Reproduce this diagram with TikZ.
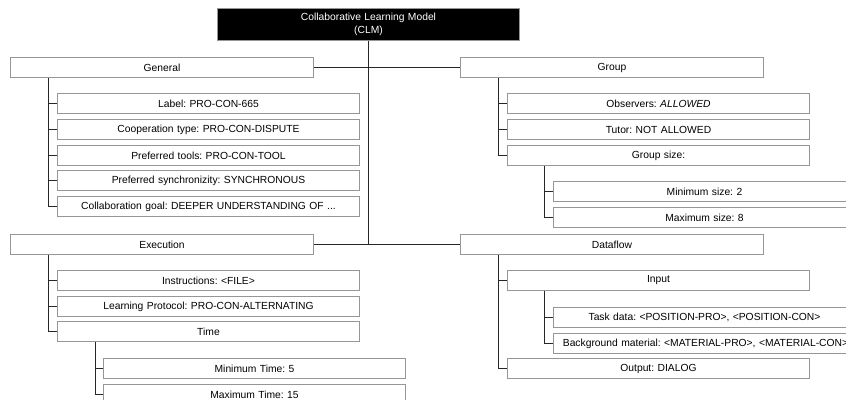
\documentclass[tikz,border=0pt]{standalone}
\usepackage{fontspec}
\setmainfont{Liberation Sans}
\definecolor{boxgrey}{RGB}{150,150,150}
\begin{document}
\begin{tikzpicture}[x=1pt,y=-1pt,
  lbl/.style={font=\fontsize{10.3}{12.5}\selectfont\frenchspacing},
  box/.style={lbl, draw=boxgrey, line width=1pt, fill=white, text width=302pt,
    inner xsep=0pt, inner ysep=0pt, align=center, minimum height=20pt, anchor=north west},
  topbox/.style={box, text width=303pt},
  rootbox/.style={lbl, draw=boxgrey, line width=1pt, fill=black, text=white, text width=302pt,
    inner xsep=0pt, inner ysep=0pt, align=center, minimum height=32pt, anchor=north west},
  conn/.style={draw=black!85, line width=0.9pt}]
\useasboundingbox (0,0) rectangle (846,399);
\fill[white] (0,0) rectangle (846,399);

% root
\node[rootbox] (root) at (217,8) {Collaborative Learning Model\\[0pt](CLM)};

% first level
\node[topbox] (gen) at (10,57) {General};
\node[topbox] (grp) at (460,57) {Group};
\node[topbox] (exe) at (10,234) {Execution};
\node[topbox] (df)  at (460,234) {Dataflow};

\draw[conn] (root.south) -- (root.south |- exe.east);
\draw[conn] (gen.east) -- (grp.west);
\draw[conn] (exe.east) -- (df.west);

% General
\node[box] (g1) at (57,93)  {Label: PRO-CON-665};
\node[box] (g2) at (57,119) {Cooperation type: PRO-CON-DISPUTE};
\node[box] (g3) at (57,145) {Preferred tools: PRO-CON-TOOL};
\node[box] (g4) at (57,170) {Preferred synchronizity: SYNCHRONOUS};
\node[box] (g5) at (57,196) {Collaboration goal: DEEPER UNDERSTANDING OF ...};
\foreach \c in {g1,g2,g3,g4,g5}
  \draw[conn] ([xshift=38pt]gen.south west) |- (\c.west);

% Execution
\node[box] (e1) at (57,270) {Instructions: <FILE>};
\node[box] (e2) at (57,296) {Learning Protocol: PRO-CON-ALTERNATING};
\node[box] (e3) at (57,321) {Time};
\foreach \c in {e1,e2,e3}
  \draw[conn] ([xshift=38pt]exe.south west) |- (\c.west);
\node[box] (t1) at (103,358) {Minimum Time: 5};
\node[box] (t2) at (103,384) {Maximum Time: 15};
\foreach \c in {t1,t2}
  \draw[conn] ([xshift=38pt]e3.south west) |- (\c.west);

% Group
\node[box] (p1) at (507,93)  {Observers: \textit{ALLOWED}};
\node[box] (p2) at (507,119) {Tutor: NOT ALLOWED};
\node[box] (p3) at (507,145) {Group size:};
\foreach \c in {p1,p2,p3}
  \draw[conn] ([xshift=38pt]grp.south west) |- (\c.west);
\node[box] (s1) at (553,181) {Minimum size: 2};
\node[box] (s2) at (553,207) {Maximum size: 8};
\foreach \c in {s1,s2}
  \draw[conn] ([xshift=37pt]p3.south west) |- (\c.west);

% Dataflow
\node[box] (d1) at (507,270) {Input};
\node[box] (d2) at (507,358) {Output: DIALOG};
\foreach \c in {d1,d2}
  \draw[conn] ([xshift=38pt]df.south west) |- (\c.west);
\node[box] (i1) at (553,307) {Task data: <POSITION-PRO>, <POSITION-CON>};
\node[box] (i2) at (553,333) {\hspace*{2pt}Background material: <MATERIAL-PRO>, <MATERIAL-CON>\hfill};
\foreach \c in {i1,i2}
  \draw[conn] ([xshift=37pt]d1.south west) |- (\c.west);
\end{tikzpicture}
\end{document}
